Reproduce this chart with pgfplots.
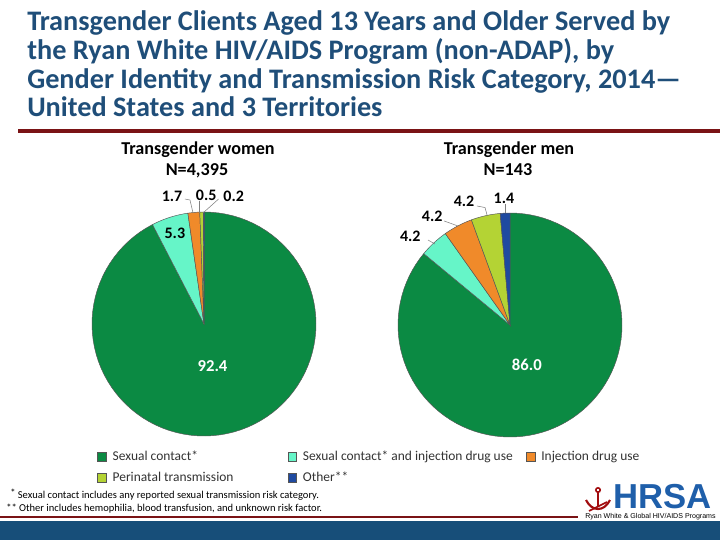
\documentclass[border=0pt]{standalone}
\usepackage{pgfplots}
\pgfplotsset{compat=1.18}
\usepackage{fontspec}
\setmainfont{Carlito}
\newfontfamily\arialfont{Liberation Sans}
\definecolor{cSex}{HTML}{0B8A43}
\definecolor{cSexIdu}{HTML}{66F5C8}
\definecolor{cIdu}{HTML}{F08A2A}
\definecolor{cPeri}{HTML}{B4D334}
\definecolor{cOther}{HTML}{1F4AA0}
\definecolor{titleblue}{HTML}{1F4E79}
\definecolor{darkred}{HTML}{7A1315}
\definecolor{bandblue}{HTML}{174E79}
\definecolor{hrsablue}{HTML}{1F5FAA}
\definecolor{edgegray}{HTML}{555555}

\newcommand\resetpie{\gdef\piecum{0}}
\newcommand{\pieslice}[2]{%
  \pgfmathsetmacro\angA{90-3.6*(\piecum+#1)}%
  \pgfmathsetmacro\angB{90-3.6*\piecum}%
  \pgfmathsetmacro\newcum{\piecum+#1}\global\let\piecum\newcum
  \edef\temp{\noexpand\addplot[fill=#2, draw=edgegray, line width=0.35pt, domain=\angA:\angB, samples=90, variable=\noexpand\t]}%
  \temp ({cos(\t)},{sin(\t)}) -- (axis cs:0,0) -- cycle;}

\pgfplotsset{pieaxis/.style={
  hide axis, scale only axis, width=168pt, height=168pt,
  xmin=-1, xmax=1, ymin=-1, ymax=1, clip=false, anchor=center}}
\tikzset{lbl/.style={font=\bfseries\fontsize{12pt}{14pt}\selectfont, inner sep=0pt},
  big/.style={text=white, font=\bfseries\fontsize{12.5pt}{14pt}\selectfont, inner sep=0pt},
  lead/.style={draw=gray, line width=0.4pt}}

\begin{document}
\begin{tikzpicture}
\useasboundingbox (0pt,0pt) rectangle (540pt,-405pt);
\fill[white] (0pt,0pt) rectangle (540pt,-405pt);
\begin{scope}[x=0.75pt, y=-0.75pt]
% title
\begin{scope}[every node/.style={anchor=base west, inner sep=0pt, text=titleblue, font=\bfseries\fontsize{21.2pt}{24pt}\selectfont}]
\node at (27,30.7) {Transgender Clients Aged 13 Years and Older Served by};
\node at (27,59.4) {the Ryan White HIV/AIDS Program (non-ADAP), by};
\node at (27,88.1) {Gender Identity and Transmission Risk Category, 2014—};
\node at (27,116.8) {United States and 3 Territories};
\end{scope}
\draw[darkred, line width=3pt] (18,130.8) -- (720,130.8);
% subtitles
\begin{scope}[every node/.style={anchor=base, inner sep=0pt, font=\bfseries\fontsize{13.6pt}{15pt}\selectfont}]
\node at (198,154) {Transgender women};
\node at (197,175.7) {N=4,395};
\node at (509,154) {Transgender men};
\node at (508,175.7) {N=143};
\end{scope}
% footnotes
\begin{scope}[every node/.style={anchor=base west, inner sep=0pt, font=\fontsize{7.9pt}{9pt}\selectfont}]
\node at (10,498.3) {\raisebox{1pt}{*} Sexual contact includes any reported sexual transmission risk category.};
\node at (6,511) {** Other includes hemophilia, blood transfusion, and unknown risk factor.};
\end{scope}
% bottom
\draw[darkred, line width=2.2pt] (0,517) -- (578,517);
\fill[bandblue] (0,521) rectangle (720,540);
% logo
\node[anchor=base west, inner sep=0pt, text=hrsablue, font=\arialfont\bfseries\fontsize{26pt}{26pt}\selectfont] at (613,508.5) {HRSA};
\node[anchor=base west, inner sep=0pt, font=\arialfont\fontsize{5.3pt}{5.3pt}\selectfont] at (585,518.5) {Ryan White \& Global HIV/AIDS Programs};
\draw[darkred!70!red, line width=1.2pt] (598,490) circle (2.2);
\draw[darkred!70!red, line width=1.6pt] (586,500) .. controls (592,512) and (604,512) .. (610,500);
\draw[darkred!70!red, line width=1.4pt] (598,493) -- (598,506);
\draw[darkred!70!red, line width=1.2pt] (589,511) -- (607,502);
\end{scope}

% Transgender women pie
\begin{axis}[pieaxis, at={(153pt,-243pt)},
  legend columns=3,
  legend style={draw=none, fill=none, at={(axis cs:-0.955,-1.125)}, anchor=north west,
    inner sep=0pt, column sep=0pt, row sep=6.2pt,
    font=\fontsize{10.1pt}{12pt}\selectfont, text=black!80,
    nodes={inner sep=0pt, text height=7.5pt, text depth=2.3pt}},
  legend image code/.code={\draw[#1, draw=edgegray, line width=0.4pt] (0pt,-3.3pt) rectangle (6.6pt,3.3pt);}]
\resetpie
\pieslice{92.4}{cSex}
\addlegendentry{\makebox[135.75pt][l]{\hspace{4.5pt}Sexual contact*}}
\pieslice{5.3}{cSexIdu}
\addlegendentry{\makebox[171.75pt][l]{\hspace{4.5pt}Sexual contact* and injection drug use}}
\pieslice{1.7}{cIdu}
\addlegendentry{\makebox[80pt][l]{\hspace{4.5pt}Injection drug use}}
\pieslice{0.5}{cPeri}
\addlegendentry{\makebox[135.75pt][l]{\hspace{4.5pt}Perinatal transmission}}
\pieslice{0.2}{cOther}
\addlegendentry{\makebox[171.75pt][l]{\hspace{4.5pt}Other**}}
\node[big] at (axis cs:0.076,-0.375) {92.4};
\node[lbl] at (axis cs:-0.26,0.8125) {5.3};
\node[lbl] at (axis cs:-0.285,1.14) {1.7};
\node[lbl] at (axis cs:0.02,1.147) {0.5};
\node[lbl] at (axis cs:0.265,1.14) {0.2};
\draw[lead] (axis cs:-0.170,1.116) -- (axis cs:-0.125,1.107) -- (axis cs:-0.098,0.991);
\draw[lead] (axis cs:-0.040,1.098) -- (axis cs:-0.040,0.991);
\draw[lead] (axis cs:0.13,1.116) -- (axis cs:-0.009,0.991);
\end{axis}

% Transgender men pie
\begin{axis}[pieaxis, at={(382.5pt,-243.75pt)}]
\resetpie
\pieslice{86.0}{cSex}
\pieslice{4.2}{cSexIdu}
\pieslice{4.2}{cIdu}
\pieslice{4.2}{cPeri}
\pieslice{1.4}{cOther}
\node[big] at (axis cs:0.15,-0.357) {86.0};
\node[lbl] at (axis cs:-0.054,1.134) {1.4};
\node[lbl] at (axis cs:-0.41,1.103) {4.2};
\node[lbl] at (axis cs:-0.695,0.969) {4.2};
\node[lbl] at (axis cs:-0.89,0.795) {4.2};
\draw[lead] (axis cs:-0.045,1.08) -- (axis cs:-0.045,1.0);
\draw[lead] (axis cs:-0.295,1.0625) -- (axis cs:-0.223,1.049) -- (axis cs:-0.205,0.982);
\draw[lead] (axis cs:-0.589,0.929) -- (axis cs:-0.464,0.884);
\draw[lead] (axis cs:-0.732,0.759) -- (axis cs:-0.67,0.723);
\end{axis}
\end{tikzpicture}
\end{document}
